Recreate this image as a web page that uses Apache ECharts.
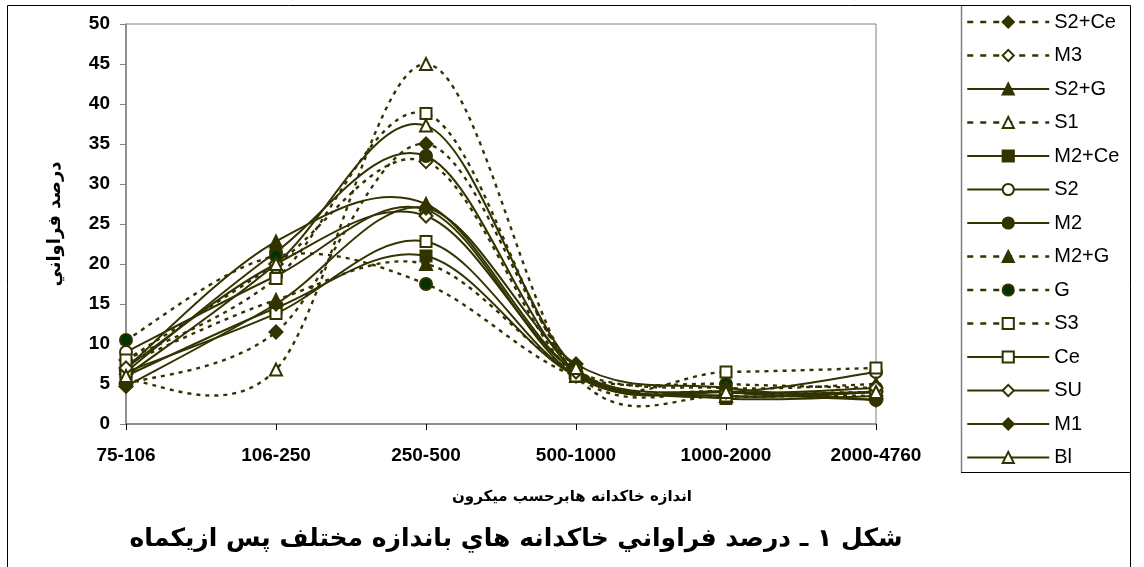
<!DOCTYPE html>
<html><head><meta charset="utf-8">
<script src="https://cdn.jsdelivr.net/npm/echarts@6/dist/echarts.min.js"></script>
<style>html,body{margin:0;padding:0;background:#fff}#c{width:1144px;height:567px}</style>
</head><body><div id="c"></div>
<script>
const categories = ['75-106','106-250','250-500','500-1000','1000-2000','2000-4760'];
const yTicks = [0,5,10,15,20,25,30,35,40,45,50];
const seriesNames = ['S2+Ce','M3','S2+G','S1','M2+Ce','S2','M2','M2+G','G','S3','Ce','SU','M1','Bl'];
const S2Ce = [5.0, 11.5, 35.0, 7.0, 4.0, 3.5];
const M3   = [8.0, 20.0, 32.8, 6.0, 4.0, 4.0];
const S2G  = [7.0, 22.8, 27.5, 6.5, 3.5, 4.0];
const S1   = [5.5, 6.8, 45.0, 6.0, 3.5, 4.0];
const M2Ce = [6.0, 14.5, 21.0, 6.0, 3.2, 3.5];
const S2   = [9.0, 18.5, 26.8, 6.0, 4.0, 6.5];
const M2   = [6.5, 21.5, 33.5, 6.5, 4.0, 3.0];
const M2G  = [7.5, 15.5, 20.0, 6.5, 4.5, 5.0];
const G    = [10.5, 21.0, 17.5, 6.0, 5.0, 4.5];
const S3   = [8.0, 18.2, 38.8, 6.5, 6.5, 7.0];
const Ce   = [6.5, 13.8, 22.8, 6.0, 3.5, 4.0];
const SU   = [7.0, 20.0, 26.0, 6.5, 4.0, 4.5];
const M1   = [4.7, 15.0, 27.0, 7.5, 4.5, 3.0];
const Bl   = [6.0, 20.0, 37.3, 7.0, 4.0, 4.0];
const seriesValues = [S2Ce, M3, S2G, S1, M2Ce, S2, M2, M2G, G, S3, Ce, SU, M1, Bl];

const C = '#333300';
const DASH = [4,5];
// style: [dotted, symbol, fill]
const styles = [
  [true,'diamond','fill'],[true,'diamond','open'],[false,'triangle','fill'],[true,'triangle','open'],
  [false,'rect','fill'],[false,'circle','open'],[false,'circle','fill'],[true,'triangle','fill'],
  [true,'circle','green'],[true,'rect','open'],[false,'rect','open'],[false,'diamond','open'],
  [false,'diamond','fill'],[false,'triangle','open']
];
function symSize(sym){ return sym==='rect'?11:(sym==='circle'?12:(sym==='diamond'?13:12)); }

// smoothed curves (Excel-like Catmull-Rom Bezier), positions from the axes via api.coord
const curveSeries = seriesNames.map((n,k)=>{
  const vals = seriesValues[k];
  const dot = styles[k][0];
  return {
    type:'custom', coordinateSystem:'cartesian2d', silent:true, z:1,
    data: vals.map((v,i)=>[i,v]),
    encode:{x:0,y:1},
    renderItem:function(params, api){
      if (params.dataIndex !== 0) return null;
      const p = vals.map((v,i)=>api.coord([i,v]));
      let d = 'M'+p[0][0]+' '+p[0][1];
      for (let i=0;i<p.length-1;i++){
        const p0 = p[Math.max(i-1,0)], p1=p[i], p2=p[i+1], p3=p[Math.min(i+2,p.length-1)];
        const c1x = p1[0]+(p2[0]-p0[0])/6, c1y = p1[1]+(p2[1]-p0[1])/6;
        const c2x = p2[0]-(p3[0]-p1[0])/6, c2y = p2[1]-(p3[1]-p1[1])/6;
        d += ' C'+c1x+' '+c1y+' '+c2x+' '+c2y+' '+p2[0]+' '+p2[1];
      }
      return {type:'path', shape:{pathData:d},
        style:{fill:null, stroke:C, lineWidth: dot?2.4:2, lineDash: dot?DASH:null}};
    }
  };
});
const markerSeries = seriesNames.map((n,i)=>{
  const [dot,sym,fill]=styles[i];
  return {
    name:n, type:'line', data:seriesValues[i], smooth:false,
    symbol:sym, symbolSize:symSize(sym), showAllSymbol:true,
    lineStyle:{color:C, width:2, type: dot?DASH:'solid', opacity:0},
    itemStyle:{color: fill==='fill'?C:(fill==='green'?'#003300':'#ffffff'), borderColor:C, borderWidth:2, opacity:1},
    emphasis:{disabled:true}, z: 3+i
  };
});
const legendData = seriesNames.map((n,i)=>({
  name:n,
  lineStyle:{color:C, width: styles[i][0]?2.5:2, type: styles[i][0]?[6,7]:'solid', opacity:1}
}));

const chart = echarts.init(document.getElementById('c'));
chart.setOption({
  animation:false,
  backgroundColor:'#fff',
  grid:{left:126, right:268, top:24, bottom:143, show:true, borderColor:'#808080', borderWidth:1},
  legend:{
    orient:'vertical', left:961, top:7, itemWidth:82, itemHeight:14, itemGap:13.5,
    textStyle:{fontFamily:'Liberation Sans', fontSize:20, lineHeight:20, color:'#000'},
    data: legendData
  },
  xAxis:{type:'category', data:categories, boundaryGap:false,
    axisLine:{lineStyle:{color:'#808080', width:1.5}},
    axisTick:{show:true, length:6, lineStyle:{color:'#000'}},
    axisLabel:{fontFamily:'Liberation Sans', fontWeight:'bold', fontSize:19, color:'#000', margin:22},
    splitLine:{show:false}
  },
  yAxis:{type:'value', min:0, max:50, interval:5,
    axisLine:{show:true, lineStyle:{color:'#808080', width:1.5}},
    axisTick:{show:true, length:6, lineStyle:{color:'#808080'}},
    axisLabel:{fontFamily:'Liberation Sans', fontWeight:'bold', fontSize:19, color:'#000', margin:16},
    splitLine:{show:false},
    name:'درصد فراواني', nameLocation:'middle', nameRotate:90, nameGap:62,
    nameTextStyle:{fontFamily:'DejaVu Sans', fontWeight:'bold', fontSize:18, color:'#000'}
  },
  graphic:[
    {type:'rect', shape:{x:7.5,y:5.5,width:1123,height:570}, style:{fill:'none', stroke:'#000', lineWidth:1}, silent:true},
    {type:'line', shape:{x1:961.5,y1:6,x2:961.5,y2:472}, style:{stroke:'#808080', lineWidth:1.5}, silent:true},
    {type:'line', shape:{x1:961,y1:472.5,x2:1131,y2:472.5}, style:{stroke:'#000', lineWidth:1}, silent:true},
    {type:'text', style:{text:'اندازه خاکدانه هابرحسب ميکرون', x:572, y:497, align:'center', verticalAlign:'middle', font:'bold 15px "DejaVu Sans"', fill:'#000'}, silent:true},
    {type:'text', style:{text:'شکل ۱ ـ درصد فراواني خاکدانه هاي باندازه مختلف پس ازيکماه', x:516, y:539, align:'center', verticalAlign:'middle', font:'bold 25px "DejaVu Sans"', fill:'#000'}, silent:true}
  ],
  series: curveSeries.concat(markerSeries)
});
</script></body></html>
